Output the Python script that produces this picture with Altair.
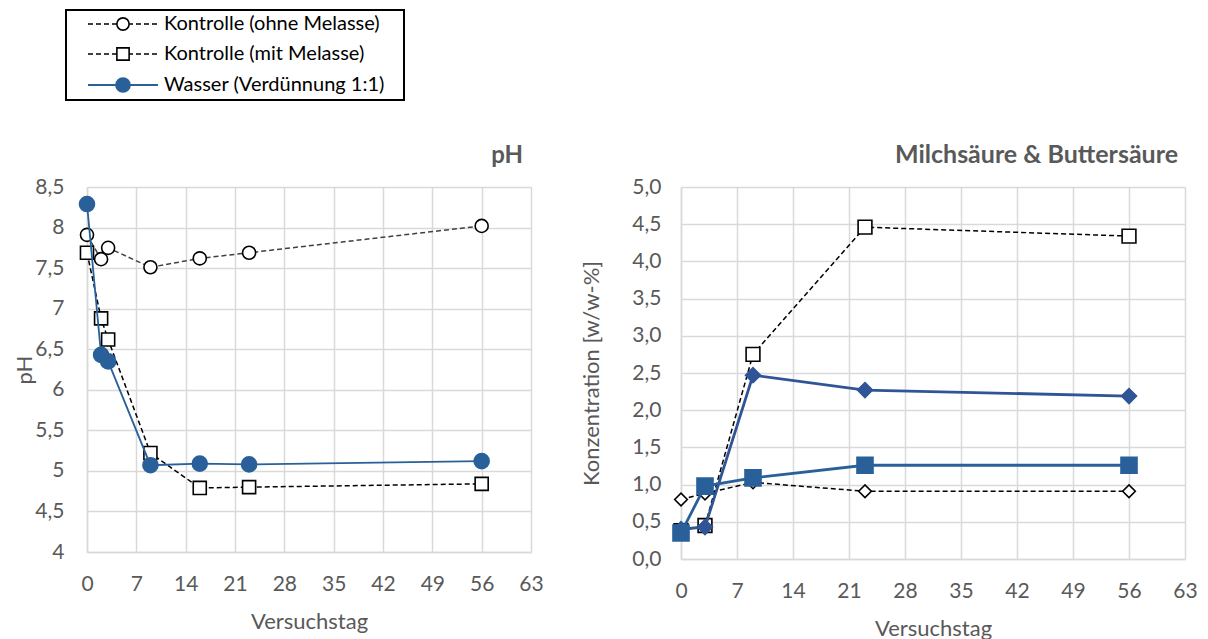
import altair as alt
import pandas as pd

# ---------------- data ----------------
days_ph = [0, 2, 3, 9, 16, 23, 56]
ph_ohne = [7.91, 7.61, 7.75, 7.51, 7.62, 7.69, 8.02]
ph_mit = [7.69, 6.88, 6.62, 5.22, 4.79, 4.80, 4.84]
ph_wasser = [8.29, 6.43, 6.35, 5.07, 5.09, 5.08, 5.12]

days_acid = [0, 3, 9, 23, 56]
acid_kontrolle_raute = [0.80, 0.88, 1.03, 0.91, 0.91]
acid_kontrolle_quadrat = [0.38, 0.45, 2.75, 4.46, 4.34]
acid_wasser_raute = [0.40, 0.43, 2.47, 2.27, 2.19]
acid_wasser_quadrat = [0.35, 0.98, 1.09, 1.26, 1.26]

legend_labels = ["Kontrolle (ohne Melasse)", "Kontrolle (mit Melasse)", "Wasser (Verdünnung 1:1)"]
x_ticks = [0, 7, 14, 21, 28, 35, 42, 49, 56, 63]
ph_ticks = [4, 4.5, 5, 5.5, 6, 6.5, 7, 7.5, 8, 8.5]
acid_ticks = [0, 0.5, 1, 1.5, 2, 2.5, 3, 3.5, 4, 4.5, 5]

# ---------------- styles ----------------
FONT = "Lato"
GREY = "#595959"
BLUE = "#2a6099"
BLUE2 = "#2f5597"


def frame(days, vals, name):
    return pd.DataFrame({"Versuchstag": days, "Wert": vals, "Serie": name})


def series(df, xenc, yenc, color, lw, shape, fill, stroke, size, dash=None, swidth=1.6):
    line_kw = dict(color=color, strokeWidth=lw)
    if dash is not None:
        line_kw["strokeDash"] = dash
    line = alt.Chart(df).mark_line(**line_kw).encode(x=xenc, y=yenc)
    pts = alt.Chart(df).mark_point(
        shape=shape, filled=True, fill=fill, stroke=stroke, strokeWidth=swidth,
        size=size, opacity=1, fillOpacity=1
    ).encode(x=xenc, y=yenc)
    return [line, pts]


# ---------------- left panel (pH) ----------------
W1, H1 = 444, 365
x1 = alt.X("Versuchstag:Q",
           scale=alt.Scale(domain=[0, 63], nice=False),
           axis=alt.Axis(values=x_ticks, title="Versuchstag", labelPadding=21, labelFlush=False,
                         titleY=76, titleBaseline="alphabetic"))
y1 = alt.Y("Wert:Q",
           scale=alt.Scale(domain=[4, 8.5], nice=False, zero=False),
           axis=alt.Axis(values=ph_ticks, title="pH", labelPadding=23,
                         labelExpr="replace(toString(datum.value), '.', ',')",
                         titleX=-56, titleBaseline="alphabetic"))

left_layers = []
left_layers += series(frame(days_ph, ph_ohne, legend_labels[0]), x1, y1, "#404040", 1.5,
                      "circle", "white", "#000000", 170, dash=[5, 3])
left_layers += series(frame(days_ph, ph_mit, legend_labels[1]), x1, y1, "#000000", 1.5,
                      "square", "white", "#000000", 170, dash=[5, 3])
left_layers += series(frame(days_ph, ph_wasser, legend_labels[2]), x1, y1, BLUE, 1.8,
                      "circle", BLUE, BLUE, 225)

# legend box (drawn relative to the left plot)
one = pd.DataFrame({"k": [0]})
box = alt.Chart(one).mark_rect(fillOpacity=0, stroke="#000000", strokeWidth=2).encode(
    x=alt.value(-21), x2=alt.value(317), y=alt.value(-177), y2=alt.value(-87))
left_layers.append(box)

row_y = [-163, -133, -102]
leg_styles = [
    dict(color="#000000", dash=[5, 3], shape="circle", fill="white", stroke="#000000", size=150, lw=1.5),
    dict(color="#000000", dash=[5, 3], shape="square", fill="white", stroke="#000000", size=150, lw=1.5),
    dict(color=BLUE, dash=None, shape="circle", fill=BLUE, stroke=BLUE, size=200, lw=2),
]
for i, lab in enumerate(legend_labels):
    st = leg_styles[i]
    d = pd.DataFrame({"label": [lab]})
    rule_kw = dict(color=st["color"], strokeWidth=st["lw"])
    if st["dash"] is not None:
        rule_kw["strokeDash"] = st["dash"]
    left_layers.append(alt.Chart(d).mark_rule(**rule_kw).encode(
        x=alt.value(1), x2=alt.value(71), y=alt.value(row_y[i])))
    left_layers.append(alt.Chart(d).mark_point(
        shape=st["shape"], filled=True, fill=st["fill"], stroke=st["stroke"],
        strokeWidth=1.6, size=st["size"], opacity=1, fillOpacity=1).encode(
        x=alt.value(36), y=alt.value(row_y[i])))
    left_layers.append(alt.Chart(d).mark_text(
        align="left", baseline="middle", font=FONT, fontSize=20, color="#000000").encode(
        x=alt.value(77), y=alt.value(row_y[i]), text="label:N"))

left_layers.append(alt.Chart(pd.DataFrame({"t": ["pH"]})).mark_text(
    align="right", baseline="alphabetic", font=FONT, fontSize=24, fontWeight="bold",
    color=GREY).encode(x=alt.value(436), y=alt.value(-24), text="t:N"))

left = alt.layer(*left_layers).properties(width=W1, height=H1)

# ---------------- right panel (acids) ----------------
W2, H2 = 504, 372
x2 = alt.X("Versuchstag:Q",
           scale=alt.Scale(domain=[0, 63], nice=False),
           axis=alt.Axis(values=x_ticks, title="Versuchstag", labelPadding=21, labelFlush=False,
                         titleY=76, titleBaseline="alphabetic"))
y2 = alt.Y("Wert:Q",
           scale=alt.Scale(domain=[0, 5], nice=False),
           axis=alt.Axis(values=acid_ticks, title="Konzentration [w/w-%]", labelPadding=20,
                         labelExpr="replace(format(datum.value, '.1f'), '.', ',')",
                         titleX=-83, titleBaseline="alphabetic"))

right_layers = []
right_layers += series(frame(days_acid, acid_kontrolle_raute, "Kontrolle Raute"), x2, y2, "#000000", 1.5,
                       "diamond", "white", "#000000", 160, dash=[5, 3])
right_layers += series(frame(days_acid, acid_kontrolle_quadrat, "Kontrolle Quadrat"), x2, y2, "#000000", 1.5,
                       "square", "white", "#000000", 190, dash=[5, 3])
right_layers += series(frame(days_acid, acid_wasser_raute, "Wasser Raute"), x2, y2, BLUE2, 2.8,
                       "diamond", BLUE2, BLUE2, 225)
right_layers += series(frame(days_acid, acid_wasser_quadrat, "Wasser Quadrat"), x2, y2, BLUE, 2.8,
                       "square", BLUE, BLUE, 256)

right_layers.append(alt.Chart(pd.DataFrame({"t": ["Milchsäure & Buttersäure"]})).mark_text(
    align="right", baseline="alphabetic", font=FONT, fontSize=25, fontWeight="bold",
    color=GREY).encode(x=alt.value(497), y=alt.value(-24), text="t:N"))

right = alt.layer(*right_layers).properties(width=W2, height=H2)

chart = alt.hconcat(left, right, spacing=35).properties(
    padding={"left": 4, "top": 0, "right": 0, "bottom": 0}
).configure_view(stroke="transparent").configure_axis(
    grid=True, gridColor="#d9d9d9", gridWidth=1.5,
    domainColor="#d9d9d9", domainWidth=1.5, ticks=False,
    labelColor=GREY, labelFont=FONT, labelFontSize=21,
    titleColor=GREY, titleFont=FONT, titleFontSize=22, titleFontWeight="normal"
)

chart.save("out.html", embed_options={"renderer": "svg", "actions": False})
